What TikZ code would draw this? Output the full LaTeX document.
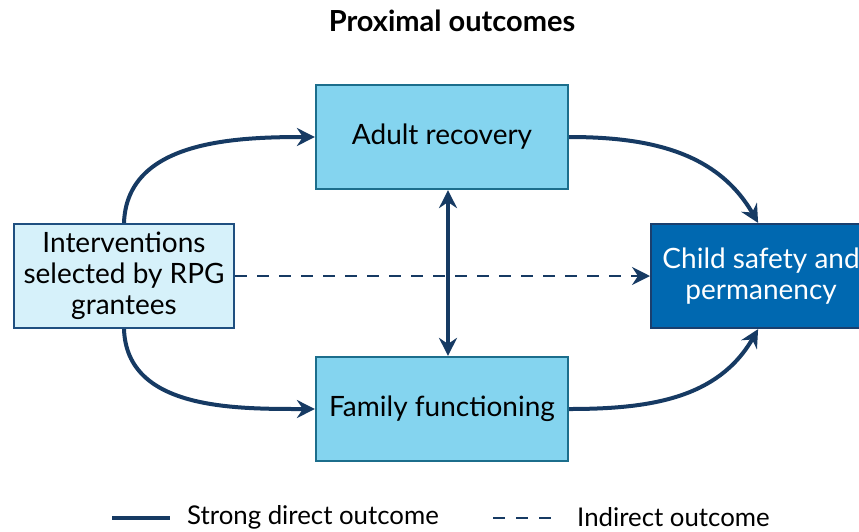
\documentclass[tikz,border=0pt]{standalone}
\usepackage{fontspec}
\setmainfont{Lato}
\usetikzlibrary{arrows.meta}
\definecolor{navy}{HTML}{163A63}
\definecolor{midfill}{HTML}{84D4EF}
\definecolor{midedge}{HTML}{1C6E8C}
\definecolor{srcfill}{HTML}{D6F1FA}
\definecolor{srcedge}{HTML}{1F4F80}
\definecolor{outfill}{HTML}{0068B0}
\definecolor{outedge}{HTML}{1A3F6E}
\tikzset{
  box/.style={draw, line width=2.2pt, minimum width=#1, minimum height=104pt, inner sep=0pt, align=center, font=\fontsize{28}{31}\selectfont},
  box/.default=252pt,
  strong/.style={draw=navy, line width=4pt, -{Stealth[length=18pt,width=18pt,inset=6pt]}},
  weak/.style={draw=navy, line width=2pt, dash pattern=on 12pt off 10pt, -{Stealth[length=18pt,width=18pt,inset=6pt]}},
  legtext/.style={anchor=west, font=\fontsize{25.8}{30}\selectfont, inner sep=0pt},
}
\begin{document}
\begin{tikzpicture}[x=1pt,y=-1pt]
\useasboundingbox (0,0) rectangle (859,531);
\clip (0,0) rectangle (859,531);
\node[font=\bfseries\fontsize{29}{34}\selectfont] (title) at (452,21) {Proximal outcomes};
\node[box, fill=midfill, draw=midedge] (adult) at (442,137) {Adult recovery};
\node[box, fill=midfill, draw=midedge] (family) at (442,409) {Family functioning};
\node[box=220pt, fill=srcfill, draw=srcedge] (src) at (124,276) {Interventions\\selected by RPG\\grantees};
\node[box=220pt, fill=outfill, draw=outedge, text=white, anchor=west] (child) at (650,276) {Child safety and\\permanency};
\draw[strong] (src.north) to[out=88,in=180] (adult.west);
\draw[strong] (src.south) to[out=-88,in=180] (family.west);
\draw[strong] (adult.east) to[out=0,in=120] ([xshift=-3pt]child.north);
\draw[strong] (family.east) to[out=0,in=-120] ([xshift=-3pt]child.south);
\draw[strong, {Stealth[length=18pt,width=18pt,inset=6pt]}-{Stealth[length=18pt,width=18pt,inset=6pt]}] ([xshift=6pt]adult.south) -- ([xshift=6pt]family.north);
\draw[weak] (src.east) -- (child.west);
% legend
\coordinate (l1a) at (112,518);
\coordinate (l1b) at (170,518);
\coordinate (l2a) at (493,518);
\coordinate (l2b) at (560,518);
\draw[navy, line width=4pt] (l1a) -- (l1b);
\draw[navy, line width=2pt, dash pattern=on 12pt off 11pt] (l2a) -- (l2b);
\node[legtext] (leg1) at (187,517) {Strong direct outcome};
\node[legtext] (leg2) at (577,517) {Indirect outcome};
\end{tikzpicture}
\end{document}
